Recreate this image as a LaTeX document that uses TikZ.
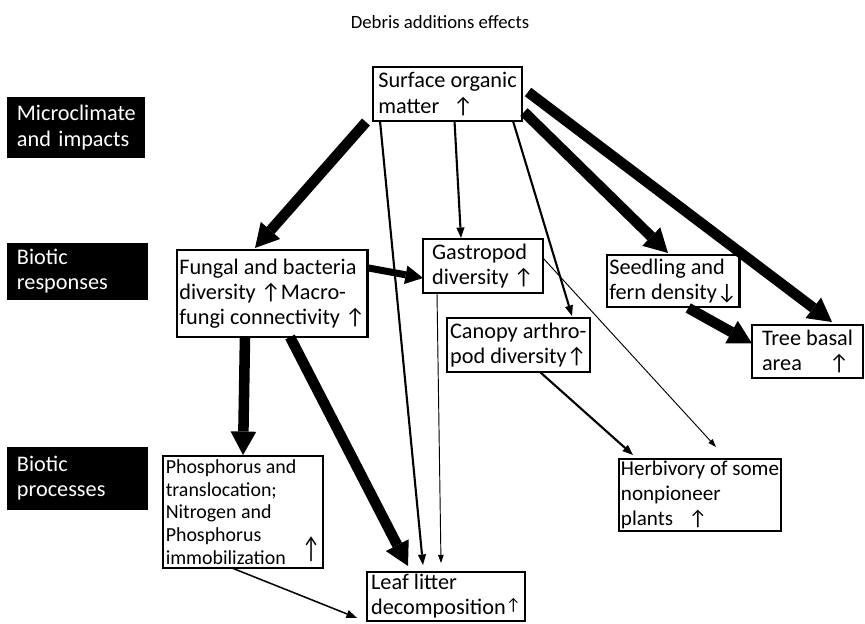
\documentclass[tikz,border=0pt]{standalone}
\usepackage{fontspec}
\setmainfont{Carlito}
\usepackage{graphicx}
\usetikzlibrary{arrows.meta}
\usetikzlibrary{calc}
\usetikzlibrary{positioning}
\newcommand{\arrup}{\iffontchar\font"2191 ↑\else$\uparrow$\fi}
\newcommand{\arrdown}{\iffontchar\font"2193 ↓\else$\downarrow$\fi}
\tikzstyle{box} = [draw=black, line width=2pt, fill=white, anchor=north west, outer sep=0pt, inner sep=2pt, align=left, font=\fontsize{19}{21.5}\selectfont]
\tikzstyle{rowlabel} = [fill=black, text=white, anchor=north west, outer sep=0pt, inner xsep=8.5pt, inner ysep=2pt, align=left, font=\fontsize{19}{21.5}\selectfont]
\tikzstyle{heavyarrow} = [line width=9pt, -{Triangle[length=20pt,width=22pt,line width=0pt]}]
\tikzstyle{midarrow} = [line width=6pt, -{Triangle[length=15pt,width=16pt,line width=0pt]}]
\tikzstyle{lightarrow} = [line width=1.8pt, -{Triangle[length=9pt,width=7pt,line width=0pt]}]
\tikzstyle{hairarrow} = [line width=0.8pt, -{Triangle[length=7pt,width=5pt,line width=0pt]}]

\begin{document}
\begin{tikzpicture}[x=0.03cm, y=-0.03cm]

  \useasboundingbox (0,0) rectangle (865,624);

  % title
  \node[font=\fontsize{16}{19}\selectfont] (title) at (440,22) {Debris additions effects};

  % row labels
  \node[rowlabel, text width=101pt, minimum height=1.83cm] (micro) at (7,97) {Microclimate\\and impacts};
  \node[rowlabel, text width=103pt, minimum height=1.71cm] (resp) at (7,243) {Biotic\\responses};
  \node[rowlabel, text width=103pt, minimum height=1.89cm] (proc) at (7,447) {Biotic\\processes};

  % boxes
  \node[box, minimum width=4.47cm, minimum height=1.62cm] (surf) at (373,67) {Surface organic\\matter \hspace{0.4em}\arrup};
  \node[box, minimum width=5.64cm, minimum height=2.61cm] (fung) at (177,250) {Fungal and bacteria\\diversity \arrup Macro-\\fungi connectivity \arrup};
  \node[box, minimum width=3.6cm, minimum height=1.62cm] (gast) at (423,239) {Gastropod\\diversity \arrup};
  \node[box, minimum width=4.29cm, minimum height=1.62cm] (cano) at (447,318) {Canopy arthro-\\pod diversity\arrup};
  \node[box, minimum width=3.93cm, minimum height=1.56cm] (seed) at (607,255) {Seedling and\\fern density\arrdown};
  \node[box, minimum width=3.33cm, minimum height=1.59cm] (tree) at (752,325) {Tree basal\\area \hspace{1em}\arrup};
  \node[box, minimum width=4.8cm, minimum height=3.36cm, font=\fontsize{17}{19.5}\selectfont] (phos) at (163,456)
    {Phosphorus and\\translocation;\\Nitrogen and\\Phosphorus\\immobilization \hspace{0.6em}\raisebox{0.6ex}[0pt][0pt]{\scalebox{1}[1.5]{\arrup}}};
  \node[box, minimum width=4.74cm, minimum height=1.44cm] (leaf) at (367,572) {Leaf litter\\decomposition\raisebox{0.4ex}{\scalebox{0.75}{\arrup}}};
  \node[box, minimum width=4.86cm, minimum height=2.01cm, inner xsep=1pt, font=\fontsize{18}{21}\selectfont] (herb) at (619,459) {Herbivory of some\\nonpioneer\\plants \hspace{0.5em}\arrup};

  % arrows from surface organic matter
  \draw[heavyarrow] ($(surf.south west)+(-7,1)$) -- ($(fung.north west)+(78,-2)$);
  \draw[lightarrow] ($(surf.south west)+(7,0)$) -- ($(leaf.north west)+(56,-7)$);
  \draw[lightarrow] ($(surf.south)+(7,0)$) -- ($(gast.north)+(-22,-1)$);
  \draw[lightarrow] ($(surf.south east)+(-9,0)$) -- ($(cano.north east)+(-18,-2)$);
  \draw[heavyarrow] ($(surf.south east)+(2,-9)$) -- ($(seed.north west)+(61,-2)$);
  \draw[heavyarrow] ($(surf.east)+(6,-2)$) -- ($(tree.north west)+(80,-3)$);

  % biotic responses
  \draw[midarrow] ($(fung.north east)+(1,18)$) -- ($(gast.west)+(0,12)$);
  \draw[hairarrow] ($(gast.south west)+(14,0)$) -- ($(leaf.north west)+(74,-9)$);
  \draw[hairarrow] ($(gast.north east)+(0,19)$) -- ($(herb.north west)+(97,-12)$);
  \draw[lightarrow] ($(cano.south west)+(93,0)$) -- ($(herb.north west)+(14,-4)$);
  \draw[heavyarrow] ($(seed.south)+(15,1)$) -- ($(tree.west)+(0,-8)$);

  % biotic processes
  \draw[heavyarrow] ($(fung.south west)+(68,0)$) -- ($(phos.north west)+(80,-1)$);
  \draw[heavyarrow] ($(fung.south west)+(113,0)$) -- ($(leaf.north west)+(41,-6)$);
  \draw[lightarrow, line width=1.3pt] ($(phos.south west)+(69,0)$) -- ($(leaf.south west)+(-10,-3)$);

\end{tikzpicture}
\end{document}
